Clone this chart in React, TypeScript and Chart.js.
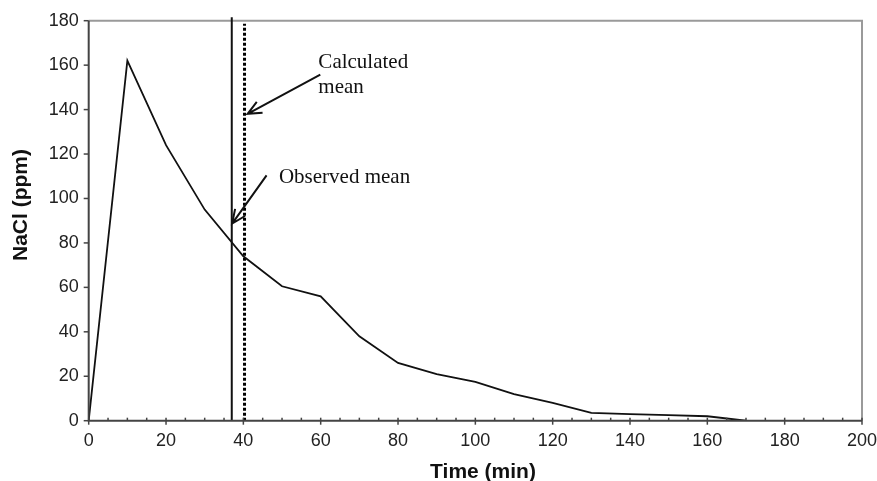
import React, { useEffect, useRef } from "react";
import { Chart, registerables } from "chart.js";

Chart.register(...registerables);

// ---- data ----
const timeMin = [0, 10, 20, 30, 40, 50, 60, 70, 80, 90, 100, 110, 120, 130, 140, 150, 160, 170];
const naclPpm = [0, 162, 124, 95, 74, 60.5, 56, 38, 26, 21, 17.5, 12, 8, 3.5, 3, 2.5, 2, 0];
const observedMean = 37;
const calculatedMean = 40.3;
const xTicks = [0, 20, 40, 60, 80, 100, 120, 140, 160, 180, 200];
const yTicks = [0, 20, 40, 60, 80, 100, 120, 140, 160, 180];
const xTitle = "Time (min)";
const yTitle = "NaCl (ppm)";
const calcLabel = ["Calculated", "mean"];
const obsLabel = "Observed mean";

const SANS = "'Liberation Sans', Arial, sans-serif";
const SERIF = "'Liberation Serif', 'Times New Roman', serif";

function drawArrow(ctx: CanvasRenderingContext2D, x1: number, y1: number, x2: number, y2: number) {
  const ang = Math.atan2(y2 - y1, x2 - x1);
  const len = 15;
  const spread = 0.42;
  ctx.beginPath();
  ctx.moveTo(x1, y1);
  ctx.lineTo(x2, y2);
  ctx.moveTo(x2 - len * Math.cos(ang - spread), y2 - len * Math.sin(ang - spread));
  ctx.lineTo(x2, y2);
  ctx.lineTo(x2 - len * Math.cos(ang + spread), y2 - len * Math.sin(ang + spread));
  ctx.stroke();
}

const decorPlugin = {
  id: "decor",
  beforeDatasetsDraw(chart: any) {
    const { ctx, chartArea } = chart;
    const { left, right, top, bottom } = chartArea;
    ctx.save();
    ctx.strokeStyle = "#9a9a9a";
    ctx.lineWidth = 2;
    ctx.beginPath();
    ctx.moveTo(left, top);
    ctx.lineTo(right, top);
    ctx.lineTo(right, bottom);
    ctx.stroke();
    ctx.restore();
  },
  afterDatasetsDraw(chart: any) {
    const { ctx, chartArea, scales } = chart;
    const { left, right, top, bottom } = chartArea;
    const xs = scales.x;
    const ys = scales.y;
    ctx.save();
    ctx.strokeStyle = "#444";
    ctx.lineWidth = 2;
    ctx.beginPath();
    ctx.moveTo(left, top);
    ctx.lineTo(left, bottom);
    ctx.lineTo(right, bottom);
    ctx.stroke();
    ctx.lineWidth = 1.5;
    for (let v = 0; v <= 200; v += 5) {
      const px = xs.getPixelForValue(v);
      ctx.beginPath();
      if (v % 20 === 0) {
        ctx.moveTo(px, bottom - 3);
        ctx.lineTo(px, bottom + 4);
      } else {
        ctx.moveTo(px, bottom - 3);
        ctx.lineTo(px, bottom);
      }
      ctx.stroke();
    }
    for (const v of yTicks) {
      const py = ys.getPixelForValue(v);
      ctx.beginPath();
      ctx.moveTo(left - 5, py);
      ctx.lineTo(left, py);
      ctx.stroke();
    }
    ctx.fillStyle = "#111";
    ctx.font = `21px ${SERIF}`;
    ctx.textAlign = "left";
    ctx.textBaseline = "alphabetic";
    ctx.fillText(calcLabel[0], xs.getPixelForValue(59.4), ys.getPixelForValue(158.7));
    ctx.fillText(calcLabel[1], xs.getPixelForValue(59.4), ys.getPixelForValue(147.4));
    ctx.fillText(obsLabel, xs.getPixelForValue(49.2), ys.getPixelForValue(106.9));
    ctx.strokeStyle = "#111";
    ctx.lineWidth = 2;
    drawArrow(ctx, xs.getPixelForValue(59.9), ys.getPixelForValue(155.7), xs.getPixelForValue(41.1), ys.getPixelForValue(138.1));
    drawArrow(ctx, xs.getPixelForValue(46.0), ys.getPixelForValue(110.4), xs.getPixelForValue(37.1), ys.getPixelForValue(88.7));
    ctx.fillStyle = "#111";
    ctx.font = `bold 21px ${SANS}`;
    ctx.textAlign = "center";
    ctx.fillText(xTitle, 483, 478);
    ctx.save();
    ctx.translate(27, 205);
    ctx.rotate(-Math.PI / 2);
    ctx.fillText(yTitle, 0, 0);
    ctx.restore();
    ctx.restore();
  },
};

export default function App() {
  const ref = useRef<HTMLCanvasElement>(null);
  useEffect(() => {
    if (!ref.current) return;
    const chart = new Chart(ref.current, {
      type: "scatter",
      data: {
        datasets: [
          {
            label: "NaCl",
            data: timeMin.map((t, i) => ({ x: t, y: naclPpm[i] })),
            showLine: true,
            borderColor: "#111",
            borderWidth: 1.8,
            pointRadius: 0,
            tension: 0,
          },
          {
            label: "Observed mean",
            data: [
              { x: observedMean, y: 0 },
              { x: observedMean, y: 181.6 },
            ],
            showLine: true,
            borderColor: "#111",
            borderWidth: 2,
            pointRadius: 0,
            clip: false,
          },
          {
            label: "Calculated mean",
            data: [
              { x: calculatedMean, y: 0 },
              { x: calculatedMean, y: 178.6 },
            ],
            showLine: true,
            borderColor: "#000",
            borderWidth: 3,
            borderDash: [3, 2],
            pointRadius: 0,
            clip: false,
          },
        ],
      },
      plugins: [decorPlugin],
      options: {
        animation: false,
        responsive: false,
        devicePixelRatio: 1,
        layout: { padding: { top: 20.7, right: 15, left: 0, bottom: 0 } },
        plugins: { legend: { display: false }, tooltip: { enabled: false } },
        scales: {
          x: {
            type: "linear",
            min: 0,
            max: 200,
            afterBuildTicks: (s: any) => {
              s.ticks = xTicks.map((v) => ({ value: v }));
            },
            afterFit: (s: any) => {
              s.height = 60.3;
              s.paddingLeft = 0;
              s.paddingRight = 0;
            },
            ticks: { font: { size: 18, family: SANS }, color: "#222", padding: 5, maxRotation: 0 },
            grid: { display: true, drawOnChartArea: false, drawTicks: true, tickLength: 5, color: "rgba(0,0,0,0)" },
            border: { display: false },
          },
          y: {
            type: "linear",
            min: 0,
            max: 180,
            afterBuildTicks: (s: any) => {
              s.ticks = yTicks.map((v) => ({ value: v }));
            },
            afterFit: (s: any) => {
              s.width = 88.7;
              s.paddingTop = 0;
              s.paddingBottom = 0;
            },
            ticks: { font: { size: 18, family: SANS }, color: "#222", padding: 5 },
            grid: { display: true, drawOnChartArea: false, drawTicks: true, tickLength: 5, color: "rgba(0,0,0,0)" },
            border: { display: false },
          },
        },
      },
    });
    return () => chart.destroy();
  }, []);
  return (
    <div style={{ position: "absolute", left: 0, top: 0, width: 877, height: 481, background: "#fff" }}>
      <canvas ref={ref} width={877} height={481} />
    </div>
  );
}
